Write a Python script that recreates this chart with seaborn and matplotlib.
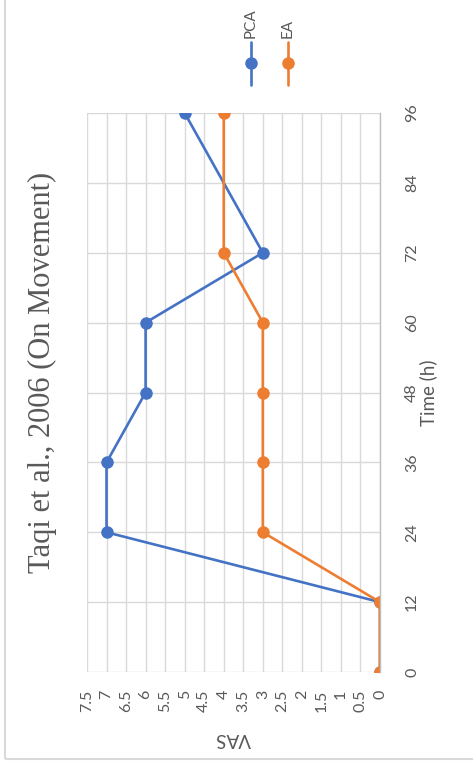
import pandas as pd
import seaborn as sns
from matplotlib import pyplot as plt
from matplotlib.lines import Line2D
from matplotlib.patches import Rectangle

# data (chart is drawn turned 90 degrees counter-clockwise, like the reference)
time_h = [0, 12, 24, 36, 48, 60, 72, 96]
pca_vas = [0, 0, 7, 7, 6, 6, 3, 5]
ea_vas = [0, 0, 3, 3, 3, 3, 4, 4]
series = ["PCA", "EA"]
colors = {"PCA": "#4472C4", "EA": "#ED7D31"}
time_ticks = [0, 12, 24, 36, 48, 60, 72, 84, 96]
vas_ticks = [i * 0.5 for i in range(16)]

df = pd.DataFrame({
    "Time": time_h + time_h,
    "VAS": pca_vas + ea_vas,
    "Series": ["PCA"] * len(time_h) + ["EA"] * len(time_h),
})

sns.set_theme(style="white")
plt.rcParams["font.family"] = ["Lato", "DejaVu Sans"]
gray = "#595959"

fig = plt.figure(figsize=(4.73, 7.66), dpi=100)
W, H = 473, 766
ax = fig.add_axes([87 / W, 1 - 672 / H, (380 - 87) / W, (672 - 113) / H])

sns.lineplot(data=df, x="VAS", y="Time", hue="Series", hue_order=series,
             palette=colors, orient="y", estimator=None, marker="o",
             markersize=9, markeredgewidth=0, linewidth=1.9, legend=False, ax=ax)

ax.set_xlim(7.5, 0)
ax.set_ylim(0, 96)
ax.set_xticks(vas_ticks)
ax.set_xticklabels([f"{v:g}" for v in vas_ticks], rotation=90, va="top", ha="center",
                   color=gray, fontsize=11.5)
ax.set_yticks(time_ticks)
ax.yaxis.tick_right()
ax.set_yticklabels([str(t) for t in time_ticks], rotation=90, va="center", ha="left",
                   color=gray, fontsize=11.5)
ax.tick_params(axis="x", length=0, pad=13)
ax.tick_params(axis="y", length=0, pad=18)

ax.grid(True, color="#d9d9d9", linewidth=1.0)
ax.set_axisbelow(True)
for side in ["left", "top", "bottom"]:
    ax.spines[side].set_visible(False)
ax.spines["right"].set_color("#bfbfbf")
ax.spines["right"].set_linewidth(1.0)

ax.set_xlabel("VAS", rotation=180, color=gray, fontsize=13.5, labelpad=13)
ax.yaxis.set_label_position("right")
ax.set_ylabel("Time (h)", rotation=90, color=gray, fontsize=13.5, labelpad=13, va="bottom")

# title, turned with the chart
fig.text(42 / W, 1 - 372 / H, "Taqi et al., 2006 (On Movement)", rotation=90,
         ha="center", va="center", color=gray, fontsize=22, family="Liberation Serif")

# legend, drawn by hand so it can stand upright
for name, lx in zip(series, [251, 288]):
    fig.add_artist(Line2D([lx / W, lx / W], [1 - 85 / H, 1 - 42 / H], color=colors[name],
                          linewidth=1.9, transform=fig.transFigure))
    fig.add_artist(Line2D([lx / W], [1 - 63 / H], color=colors[name], marker="o",
                          markersize=9, markeredgewidth=0, transform=fig.transFigure))
    fig.text(lx / W, 1 - 38 / H, name, rotation=90, ha="center", va="bottom",
             color=gray, fontsize=11)

# chart border (cropped at top and right in the reference)
fig.add_artist(Rectangle((5 / W, 1 - 759 / H), 1.2, 1.2, fill=False,
                         edgecolor="#d9d9d9", linewidth=1.5, transform=fig.transFigure))

fig.savefig("out.png", dpi=100)
